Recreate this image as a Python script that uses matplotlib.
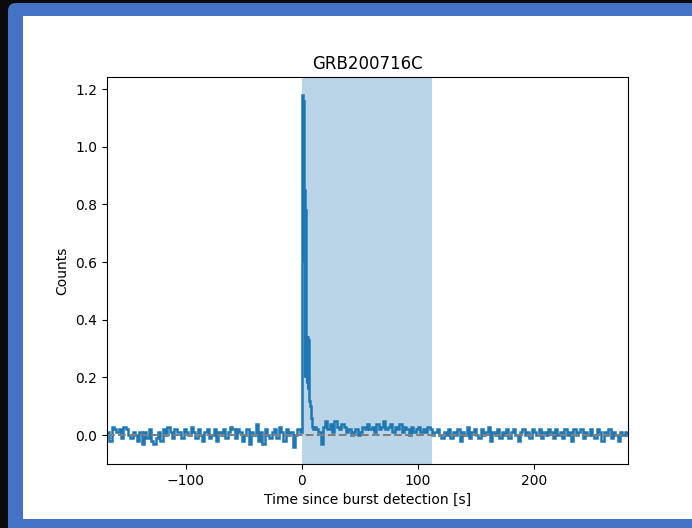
import numpy as np
import matplotlib.pyplot as plt
from matplotlib.patches import FancyBboxPatch, Rectangle
from matplotlib.ticker import MultipleLocator

grb_name = "GRB200716C"

# bins before the trigger (2 s wide, -168 .. 0 s)
pre_counts = [
    0.01, -0.02, 0.03, 0.02, 0.01, 0.02, -0.01, 0.03, 0.02, 0.00, -0.01, 0.01,
    0.00, -0.02, 0.01, -0.03, 0.01, -0.01, 0.02, -0.02, -0.03, -0.01, 0.01, -0.02,
    0.02, 0.00, 0.03, 0.01, -0.01, 0.02, 0.01, 0.01, -0.01, 0.02, 0.01, 0.00,
    0.03, 0.01, -0.01, 0.02, 0.00, -0.02, 0.01, 0.02, -0.01, 0.00, 0.02, -0.02,
    0.01, 0.00, 0.02, -0.01, 0.01, 0.03, 0.02, -0.01, 0.02, 0.01, -0.02, 0.00,
    0.02, -0.03, 0.01, 0.00, 0.04, -0.02, 0.01, -0.03, 0.02, 0.00, -0.01, 0.01,
    0.02, -0.01, 0.03, 0.01, -0.02, 0.02, 0.00, 0.01, -0.04, 0.00, 0.02, 0.01,
]

# bins over the spike (0.5 s wide, 0 .. 10 s)
burst_counts = [
    1.18, 1.18, 1.16, 0.60, 0.85, 0.20, 0.78, 0.34, 0.18, 0.34,
    0.16, 0.33, 0.13, 0.12, 0.10, 0.09, 0.06, 0.04, 0.03, 0.02,
]

# bins after the spike (2 s wide, 10 .. 282 s)
post_counts = [
    0.03, 0.02, 0.01, -0.03, 0.03, 0.05, 0.02, 0.04, 0.01, 0.05, 0.03, 0.02,
    0.04, 0.03, 0.01, 0.02, 0.00, 0.01, 0.02, 0.00, 0.01, 0.03, 0.02, 0.04,
    0.02, 0.03, 0.01, 0.04, 0.02, 0.03, 0.05, 0.02, 0.03, 0.04, 0.01, 0.03,
    0.02, 0.04, 0.01, 0.03, 0.02, 0.00, 0.03, 0.01, 0.02, 0.03, 0.01, 0.02,
    0.01, 0.03, 0.02, 0.00, 0.01, 0.02, 0.00, -0.01, 0.01, 0.00, 0.02, -0.01,
    0.01, 0.00, 0.02, -0.02, 0.01, 0.00, 0.03, -0.01, 0.01, 0.02, 0.00, -0.01,
    0.02, 0.00, 0.01, 0.03, -0.02, 0.01, 0.00, 0.02, -0.01, 0.01, 0.00, 0.02,
    -0.01, 0.01, 0.02, 0.00, -0.02, 0.01, 0.02, 0.00, 0.01, -0.01, 0.02, 0.01,
    0.00, 0.02, -0.01, 0.01, 0.00, 0.02, 0.01, -0.01, 0.02, 0.00, 0.01, -0.01,
    0.02, 0.00, 0.01, -0.02, 0.02, 0.00, 0.01, 0.02, -0.01, 0.01, 0.00, 0.02,
    0.00, -0.01, 0.02, 0.01, -0.02, 0.01, 0.00, 0.02, -0.01, 0.01, 0.00, -0.02,
    0.01, 0.00, 0.01, 0.00,
]

t_start, t_burst, t_post, t_end = -168, 0, 10, 282
interval = (0, 112)

edges = np.concatenate([
    np.arange(t_start, t_burst, 2.0),
    np.arange(t_burst, t_post, 0.5),
    np.arange(t_post, t_end + 1, 2.0),
])
counts = np.array(pre_counts + burst_counts + post_counts)

fig = plt.figure(figsize=(6.92, 5.28), dpi=100)
fig.patch.set_facecolor("#0b0b0d")

# screenshot frame: blue rounded border and white panel (pixel units)
px = 1 / 100
frame = FancyBboxPatch((8 * px, -20 * px), 720 * px, 545 * px,
                       boxstyle="round,pad=0,rounding_size=0.08",
                       transform=fig.dpi_scale_trans,
                       facecolor="#4472c4", edgecolor="none", zorder=-10)
fig.add_artist(frame)
panel = Rectangle((23 * px, 9 * px), 700 * px, 503 * px,
                  transform=fig.dpi_scale_trans,
                  facecolor="white", edgecolor="none", zorder=-9)
fig.add_artist(panel)

ax = fig.add_axes([107 / 692, 64 / 528, 521 / 692, 387 / 528])
ax.axvspan(*interval, color="#1f77b4", alpha=0.3, lw=0)
ax.axhline(0, color="gray", ls="--", lw=1.5)
ax.stairs(counts, edges, color="#1f77b4", lw=1.8)

ax.set_xlim(-168, 281)
ax.set_ylim(-0.10, 1.242)
ax.xaxis.set_major_locator(MultipleLocator(100))
ax.set_xlabel("Time since burst detection [s]")
ax.set_ylabel("Counts")
ax.set_title(grb_name)

fig.savefig("out.png", dpi=100)
